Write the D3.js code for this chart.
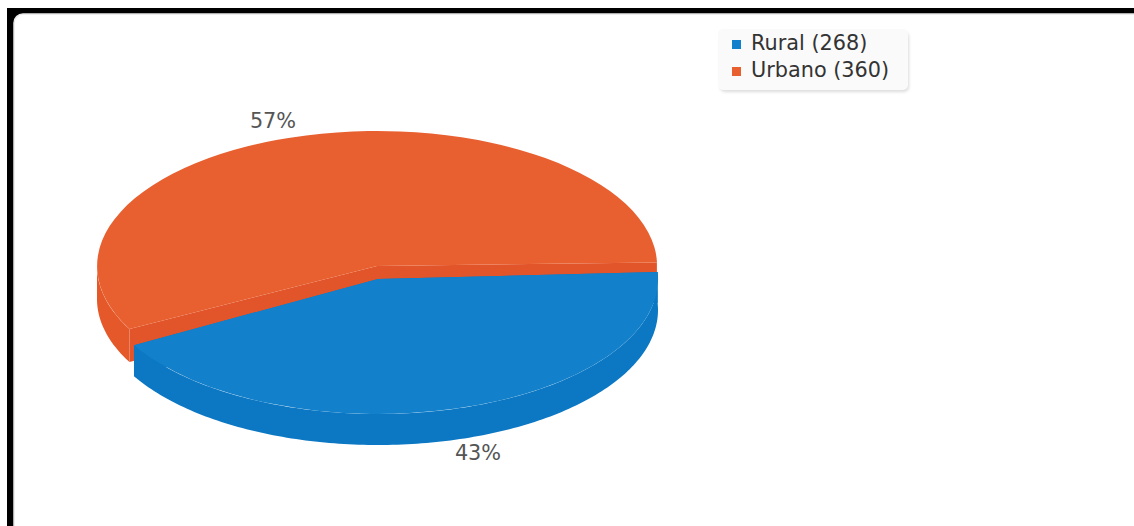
<!DOCTYPE html>
<html>
<head>
<meta charset="utf-8">
<script src="https://cdn.jsdelivr.net/npm/d3@7"></script>
<style>
html, body { margin: 0; padding: 0; background: #fff; overflow: hidden; }
text { font-family: "DejaVu Sans", sans-serif; }
</style>
</head>
<body>
<script>
var categories = ["Rural", "Urbano"];
var values = [268, 360];
var topColors = ["#1280ca", "#e86030"];
var wallColors = ["#0c78c4", "#e5582a"];
var cutColors = ["#0c78c4", "#e2552b"];

var w = 1134, h = 526;
var rx = 280, ry = 135;
var depths = [31, 33];
// each slice is pulled apart a little, so each has its own centre
var centers = [{x: 378, y: 279}, {x: 377, y: 266}];
var nudge = [-0.5, 1]; // degrees, the two slices do not line up exactly
var labelPos = [{x: 478, y: 460}, {x: 273, y: 128}];
var rad = Math.PI / 180;

var svg = d3.select("body").append("svg")
    .attr("width", w)
    .attr("height", h);

// frame
svg.append("rect").attr("x", 7).attr("y", 8).attr("width", w).attr("height", h).attr("fill", "#000");
svg.append("rect").attr("x", 14).attr("y", 14).attr("width", w + 20).attr("height", h - 4)
    .attr("rx", 9).attr("fill", "#fff").attr("stroke", "#e8e8e8").attr("stroke-width", 1.5);

var start = 87.5 * rad;
var slices = d3.pie().sort(null).startAngle(start).endAngle(start + 2 * Math.PI)(values);

var unitArc = d3.arc().innerRadius(0).outerRadius(1);
var px = function(c, a) { return c.x + rx * Math.sin(a); };
var py = function(c, a) { return c.y - ry * Math.cos(a); };

function wallPath(c, a0, a1, depth) {
    // the front half of the ellipse is the only part of the rim you can see
    var to = Math.min(a1, 270 * rad);
    if (a0 >= to) return "";
    var steps = d3.range(a0, to, rad).concat([to]);
    var top = steps.map(function(a) { return [px(c, a), py(c, a)]; });
    var bottom = steps.slice().reverse().map(function(a) { return [px(c, a), py(c, a) + depth]; });
    return d3.line()(top.concat(bottom)) + "Z";
}

function cutPath(c, a, depth) {
    return d3.line()([
        [c.x, c.y], [px(c, a), py(c, a)],
        [px(c, a), py(c, a) + depth], [c.x, c.y + depth]
    ]) + "Z";
}

// orange goes first, the blue slice sits in front of it
[1, 0].forEach(function(i) {
    var c = centers[i], depth = depths[i];
    var s = {
        startAngle: slices[i].startAngle + nudge[i] * rad,
        endAngle: slices[i].endAngle + nudge[i] * rad
    };
    var g = svg.append("g").attr("class", "slice");

    g.append("path").attr("d", cutPath(c, s.startAngle, depth)).attr("fill", cutColors[i]);
    g.append("path").attr("d", cutPath(c, s.endAngle, depth)).attr("fill", cutColors[i]);
    g.append("path").attr("d", wallPath(c, s.startAngle, s.endAngle, depth)).attr("fill", wallColors[i]);
    g.append("path")
        .attr("d", unitArc(s))
        .attr("transform", "translate(" + c.x + "," + c.y + ") scale(" + rx + "," + ry + ")")
        .attr("fill", topColors[i]);
});

// percent labels
var total = d3.sum(values);
svg.selectAll(".pct")
    .data(values)
    .enter().append("text")
    .attr("class", "pct")
    .attr("x", function(d, i) { return labelPos[i].x; })
    .attr("y", function(d, i) { return labelPos[i].y; })
    .attr("text-anchor", "middle")
    .attr("font-size", 20.8)
    .attr("fill", "#555")
    .text(function(d) { return Math.round(d / total * 100) + "%"; });

// legend
var defs = svg.append("defs");
var blur = defs.append("filter").attr("id", "soft").attr("x", "-10%").attr("y", "-20%").attr("width", "120%").attr("height", "140%");
blur.append("feGaussianBlur").attr("stdDeviation", 1.5);

svg.append("rect").attr("x", 720).attr("y", 32).attr("width", 189).attr("height", 60)
    .attr("rx", 5).attr("fill", "#ddd").attr("filter", "url(#soft)");
svg.append("rect").attr("x", 718).attr("y", 29).attr("width", 190).attr("height", 61)
    .attr("rx", 5).attr("fill", "#fafafa");

var legendY = d3.scalePoint().domain(categories).range([44, 71]);
var legend = svg.selectAll(".legendItem")
    .data(categories)
    .enter().append("g")
    .attr("class", "legendItem")
    .attr("transform", function(d) { return "translate(732," + legendY(d) + ")"; });

legend.append("rect")
    .attr("x", 0).attr("y", -4).attr("width", 9).attr("height", 9)
    .attr("fill", function(d, i) { return topColors[i]; });

legend.append("text")
    .attr("x", 19).attr("y", 6)
    .attr("font-size", 20.8)
    .attr("fill", "#333")
    .text(function(d, i) { return d + " (" + values[i] + ")"; });
</script>
</body>
</html>
